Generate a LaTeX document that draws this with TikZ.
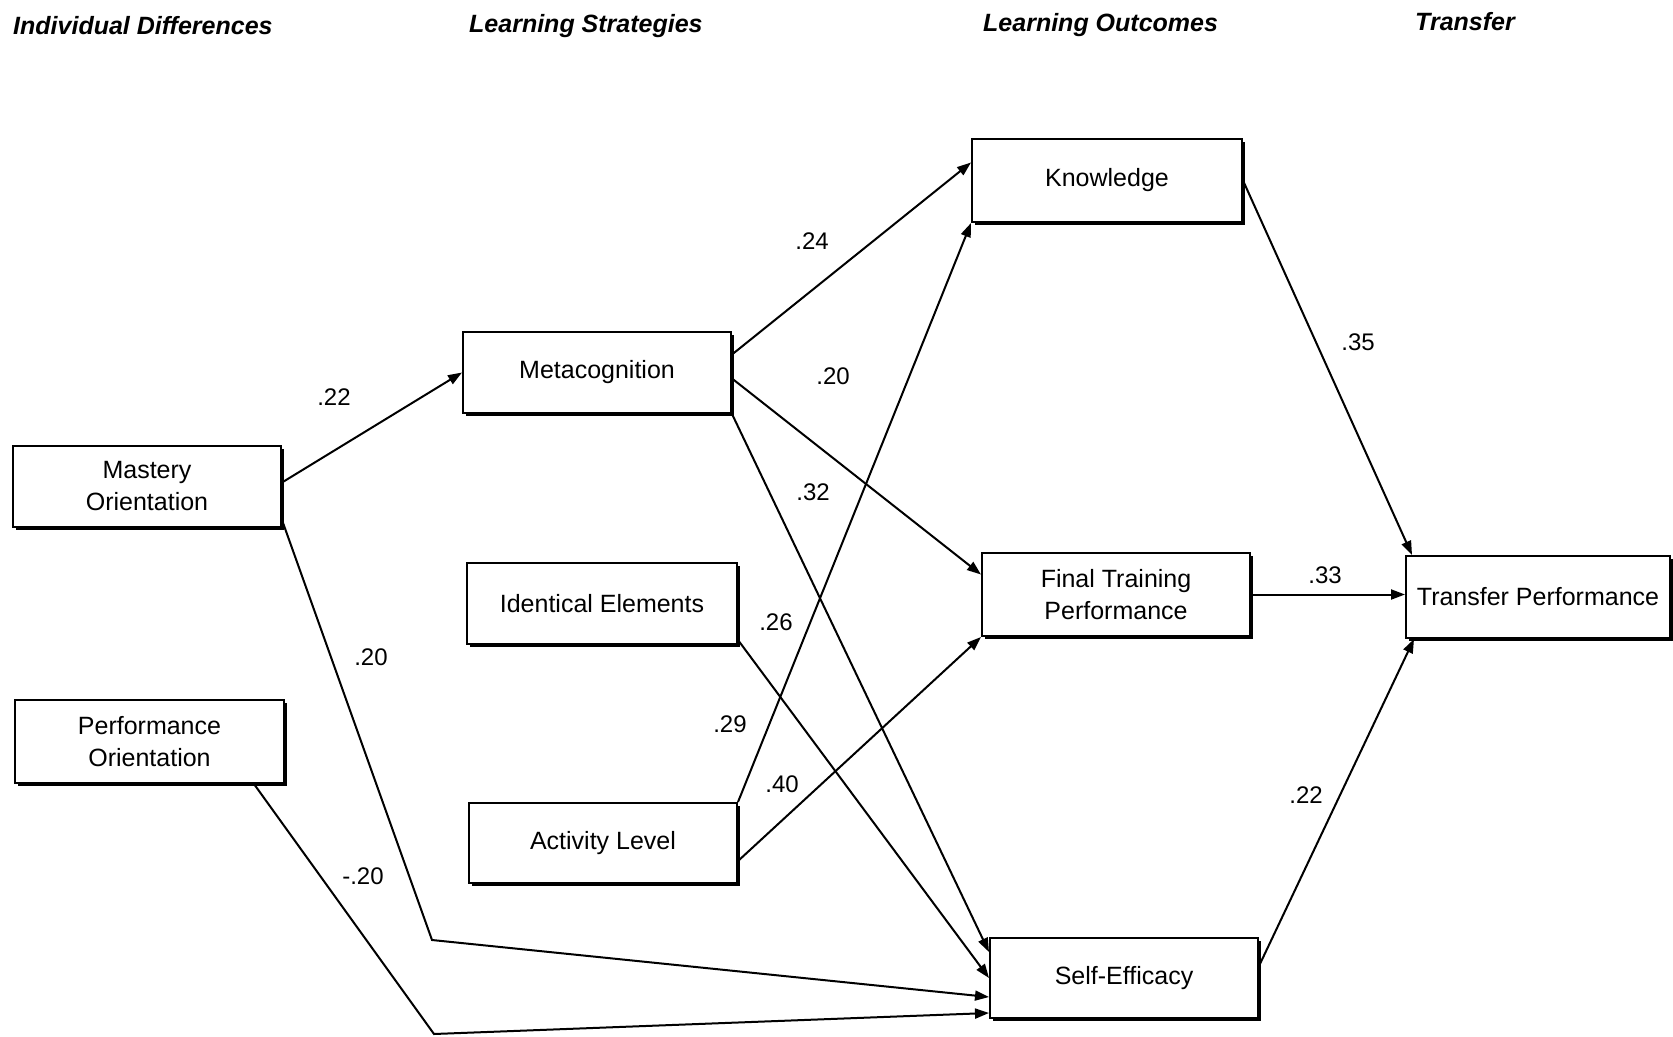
\documentclass[tikz,border=0pt]{standalone}
\usepackage{fontspec}
\setmainfont{Liberation Sans}
\usetikzlibrary{arrows.meta,shadows,calc}

\begin{document}
\begin{tikzpicture}[x=1pt,y=-1pt,
  nodebox/.style n args={2}{draw, line width=2pt, fill=white,
    minimum width=#1pt, minimum height=#2pt, inner sep=0pt, align=center,
    font=\fontsize{25}{32}\selectfont,
    drop shadow={shadow xshift=3pt, shadow yshift=-3pt, fill=black, opacity=1}},
  link/.style={line width=2pt, -{Triangle[length=14pt,width=10pt]}},
  coef/.style={font=\fontsize{24}{28}\selectfont, inner sep=0pt},
  heading/.style={font=\fontsize{25}{30}\selectfont\bfseries\itshape, inner sep=0pt, anchor=base west}]

\useasboundingbox (0,0) rectangle (1673,1036);

% column headings
\node[heading] (h1) at (13,34)   {Individual Differences};
\node[heading] (h2) at (469,32)  {Learning Strategies};
\node[heading] (h3) at (983,31)  {Learning Outcomes};
\node[heading] (h4) at (1415,30) {Transfer};

% variables
\node[nodebox={268}{81}] (mast) at (147,486.5)  {Mastery\\Orientation};
\node[nodebox={269}{83}] (perf) at (149.5,741.5){Performance\\Orientation};
\node[nodebox={268}{81}] (meta) at (597,372.5)  {Metacognition};
\node[nodebox={270}{81}] (iden) at (602,603.5)  {Identical Elements};
\node[nodebox={268}{80}] (act)  at (603,843)    {Activity Level};
\node[nodebox={270}{83}] (know) at (1107,180.5) {Knowledge};
\node[nodebox={268}{83}] (ftp)  at (1116,594.5) {Final Training\\Performance};
\node[nodebox={268}{80}] (se)   at (1124,978)   {Self-Efficacy};
\node[nodebox={264}{82}] (tp)   at (1538,597)   {Transfer Performance};

% bend points of the paths into self-efficacy
\coordinate (mbend) at (432,940);
\coordinate (pbend) at (434,1034);

% paths
\draw[link] ($(mast.east)+(0,-4)$) -- (meta.west);
\draw[link] ($(mast.south east)+(0,-8)$) -- (mbend) -- ($(se.west)+(0,19)$);
\draw[link] ($(perf.south east)+(-31,0)$) -- (pbend) -- ($(se.west)+(0,35)$);
\draw[link] ($(meta.east)+(0,-18)$) -- ($(know.west)+(0,-18)$);
\draw[link] ($(meta.east)+(0,6)$) -- ($(ftp.west)+(0,-20)$);
\draw[link] (meta.south east) -- ($(se.west)+(0,-26)$);
\draw[link] ($(iden.south east)+(0,-5)$) -- (se.west);
\draw[link] (act.north east) -- (know.south west);
\draw[link] ($(act.east)+(0,18)$) -- (ftp.south west);
\draw[link] (know.east) -- ($(tp.north west)+(7,0)$);
\draw[link] (ftp.east) -- (ftp.east -| tp.west);
\draw[link] ($(se.east)+(0,-12)$) -- ($(tp.south west)+(9,0)$);

% path coefficients
\node[coef] (c1)  at (334,397)  {.22};
\node[coef] (c2)  at (371,657)  {.20};
\node[coef] (c3)  at (363,876)  {-.20};
\node[coef] (c4)  at (812,241)  {.24};
\node[coef] (c5)  at (833,376)  {.20};
\node[coef] (c6)  at (813,492)  {.32};
\node[coef] (c7)  at (776,622)  {.26};
\node[coef] (c8)  at (730,724)  {.29};
\node[coef] (c9)  at (782,784)  {.40};
\node[coef] (c10) at (1358,342) {.35};
\node[coef] (c11) at (1325,575) {.33};
\node[coef] (c12) at (1306,795) {.22};
\end{tikzpicture}
\end{document}
